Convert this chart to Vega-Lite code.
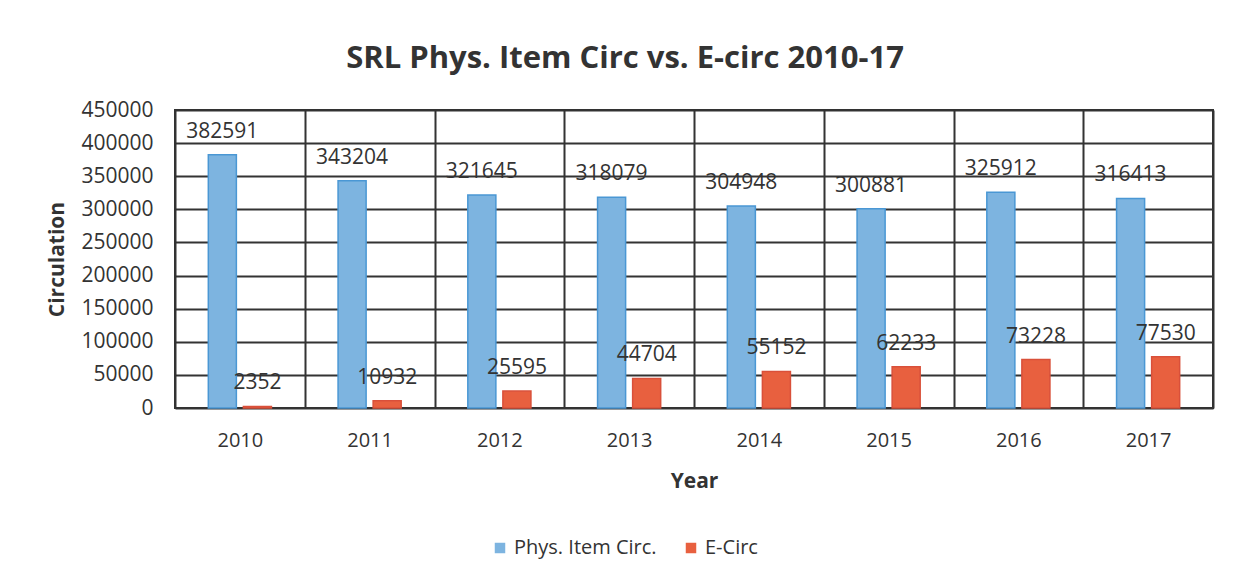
{
  "$schema": "https://vega.github.io/schema/vega-lite/v6.json",
  "width": 1038,
  "height": 298,
  "autosize": "none",
  "padding": {"left": 175, "top": 110, "right": 28, "bottom": 174},
  "background": "white",
  "title": {
    "text": "SRL Phys. Item Circ vs. E-circ 2010-17",
    "font": "Open Sans",
    "fontSize": 31,
    "fontWeight": "bold",
    "color": "#333333",
    "anchor": "middle",
    "dx": -69,
    "offset": 24
  },
  "data": {
    "values": [
      {"Year": "2010", "Series": "Phys. Item Circ.", "Value": 382591},
      {"Year": "2010", "Series": "E-Circ", "Value": 2352},
      {"Year": "2011", "Series": "Phys. Item Circ.", "Value": 343204},
      {"Year": "2011", "Series": "E-Circ", "Value": 10932},
      {"Year": "2012", "Series": "Phys. Item Circ.", "Value": 321645},
      {"Year": "2012", "Series": "E-Circ", "Value": 25595},
      {"Year": "2013", "Series": "Phys. Item Circ.", "Value": 318079},
      {"Year": "2013", "Series": "E-Circ", "Value": 44704},
      {"Year": "2014", "Series": "Phys. Item Circ.", "Value": 304948},
      {"Year": "2014", "Series": "E-Circ", "Value": 55152},
      {"Year": "2015", "Series": "Phys. Item Circ.", "Value": 300881},
      {"Year": "2015", "Series": "E-Circ", "Value": 62233},
      {"Year": "2016", "Series": "Phys. Item Circ.", "Value": 325912},
      {"Year": "2016", "Series": "E-Circ", "Value": 73228},
      {"Year": "2017", "Series": "Phys. Item Circ.", "Value": 316413},
      {"Year": "2017", "Series": "E-Circ", "Value": 77530}
    ]
  },
  "encoding": {
    "x": {
      "field": "Year",
      "type": "nominal",
      "scale": {"paddingInner": 0, "paddingOuter": 0},
      "axis": {
        "title": "Year",
        "titleFont": "Open Sans",
        "titleFontSize": 21,
        "titleFontWeight": "bold",
        "titleColor": "#333333",
        "titlePadding": 20,
        "labelFont": "Open Sans",
        "labelFontSize": 20,
        "labelColor": "#333333",
        "labelAngle": 0,
        "labelPadding": 22,
        "ticks": false,
        "domain": false,
        "grid": true,
        "tickBand": "extent",
        "gridColor": "#333333",
        "gridWidth": 2,
        "gridOpacity": 1
      }
    },
    "xOffset": {
      "field": "Series",
      "sort": ["Phys. Item Circ.", "E-Circ"],
      "scale": {"paddingInner": 0.2, "paddingOuter": 0.95}
    },
    "y": {
      "field": "Value",
      "type": "quantitative",
      "scale": {"domain": [0, 450000], "nice": false},
      "axis": {
        "title": "Circulation",
        "titleFont": "Open Sans",
        "titleFontSize": 21,
        "titleFontWeight": "bold",
        "titleColor": "#333333",
        "titlePadding": 13,
        "labelFont": "Open Sans",
        "labelFontSize": 21,
        "labelColor": "#333333",
        "labelPadding": 22,
        "format": "d",
        "values": [0, 50000, 100000, 150000, 200000, 250000, 300000, 350000, 400000, 450000],
        "ticks": false,
        "domain": false,
        "grid": true,
        "gridColor": "#333333",
        "gridWidth": 2,
        "gridOpacity": 1
      }
    }
  },
  "layer": [
    {
      "mark": {"type": "bar", "strokeWidth": 1.5},
      "encoding": {
        "color": {
          "field": "Series",
          "type": "nominal",
          "scale": {"domain": ["Phys. Item Circ.", "E-Circ"], "range": ["#7db4e0", "#e8603f"]},
          "legend": {
            "title": null,
            "orient": "none",
            "legendX": 315,
            "legendY": 428,
            "direction": "horizontal",
            "symbolType": "square",
            "symbolSize": 110,
            "symbolStrokeWidth": 0,
            "labelFont": "Open Sans",
            "labelFontSize": 20,
            "labelColor": "#333333",
            "columnPadding": 24
          }
        },
        "stroke": {
          "field": "Series",
          "type": "nominal",
          "scale": {"domain": ["Phys. Item Circ.", "E-Circ"], "range": ["#4a97d4", "#d9503a"]},
          "legend": null
        }
      }
    },
    {
      "mark": {"type": "text", "dy": -23, "baseline": "middle", "font": "Open Sans", "fontSize": 21, "color": "#333333"},
      "encoding": {
        "text": {"field": "Value", "type": "quantitative", "format": "d"}
      }
    }
  ],
  "config": {
    "view": {"stroke": "#333333", "strokeWidth": 2}
  }
}
